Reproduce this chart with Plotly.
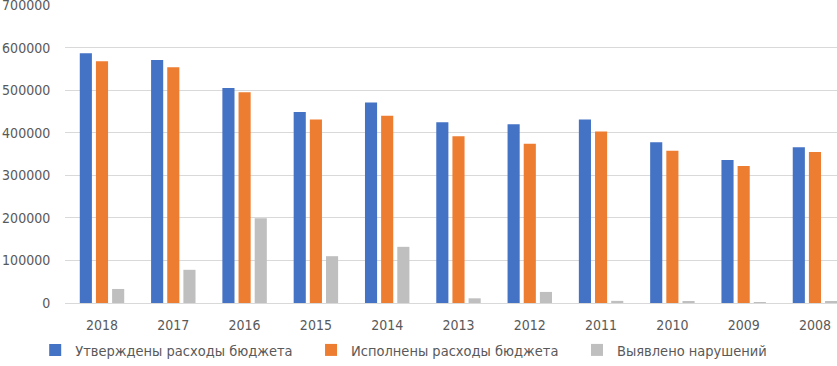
import plotly.graph_objects as go

years = ["2018", "2017", "2016", "2015", "2014", "2013", "2012", "2011", "2010", "2009", "2008"]
approved = [587000, 571000, 505000, 449000, 471000, 425000, 420000, 431000, 378000, 336000, 366000]
executed = [568000, 554000, 495000, 431000, 440000, 392000, 374000, 403000, 358000, 322000, 355000]
violations = [33000, 78000, 199000, 110000, 132000, 11000, 26000, 5000, 3000, 2000, 4000]

names = ["Утверждены расходы бюджета", "Исполнены расходы бюджета", "Выявлено нарушений"]
colors = ["#4472C4", "#ED7D31", "#BFBFBF"]
legend_ids = ["legend", "legend2", "legend3"]
legend_x = [-0.0386, 0.3187, 0.6632]

font = "DejaVu Sans Condensed, DejaVu Sans, sans-serif"

fig = go.Figure()
for vals, name, col, lid in zip([approved, executed, violations], names, colors, legend_ids):
    fig.add_trace(go.Bar(x=years, y=vals, name=name, legend=lid,
                         marker=dict(color=col, line=dict(width=0))))

leg_common = dict(orientation="h", xanchor="left", y=-0.2114, yanchor="bottom",
                  font=dict(family=font, size=14.5, color="#595959"),
                  itemwidth=30, borderwidth=0, bgcolor="rgba(0,0,0,0)")

fig.update_layout(
    width=837, height=366,
    margin=dict(l=65, r=0, t=5, b=63, autoexpand=False),
    paper_bgcolor="white", plot_bgcolor="white",
    barmode="group", bargap=0.32, bargroupgap=0.25,
    font=dict(family=font, size=14, color="#595959"),
    showlegend=True,
    legend=dict(x=legend_x[0], **leg_common),
    legend2=dict(x=legend_x[1], **leg_common),
    legend3=dict(x=legend_x[2], **leg_common),
)
fig.update_xaxes(type="category", range=[-0.519, 10.309], showgrid=False, showline=False,
                 ticks="outside", ticklen=9, tickcolor="rgba(0,0,0,0)", automargin=False,
                 tickfont=dict(family=font, size=14, color="#595959"))
fig.update_yaxes(range=[0, 700300], tickmode="linear", tick0=0, dtick=100000,
                 showgrid=True, gridcolor="#D9D9D9",
                 gridwidth=1, zeroline=True, zerolinecolor="#D9D9D9", zerolinewidth=1,
                 showline=False, ticks="outside", ticklen=11, tickcolor="rgba(0,0,0,0)",
                 tickformat="d", automargin=False, ticklabeloverflow="allow",
                 tickfont=dict(family=font, size=14, color="#595959"))

fig.write_html("out.html", config={"displayModeBar": False},
               post_script="document.body.style.margin='0';document.body.style.padding='0';")
